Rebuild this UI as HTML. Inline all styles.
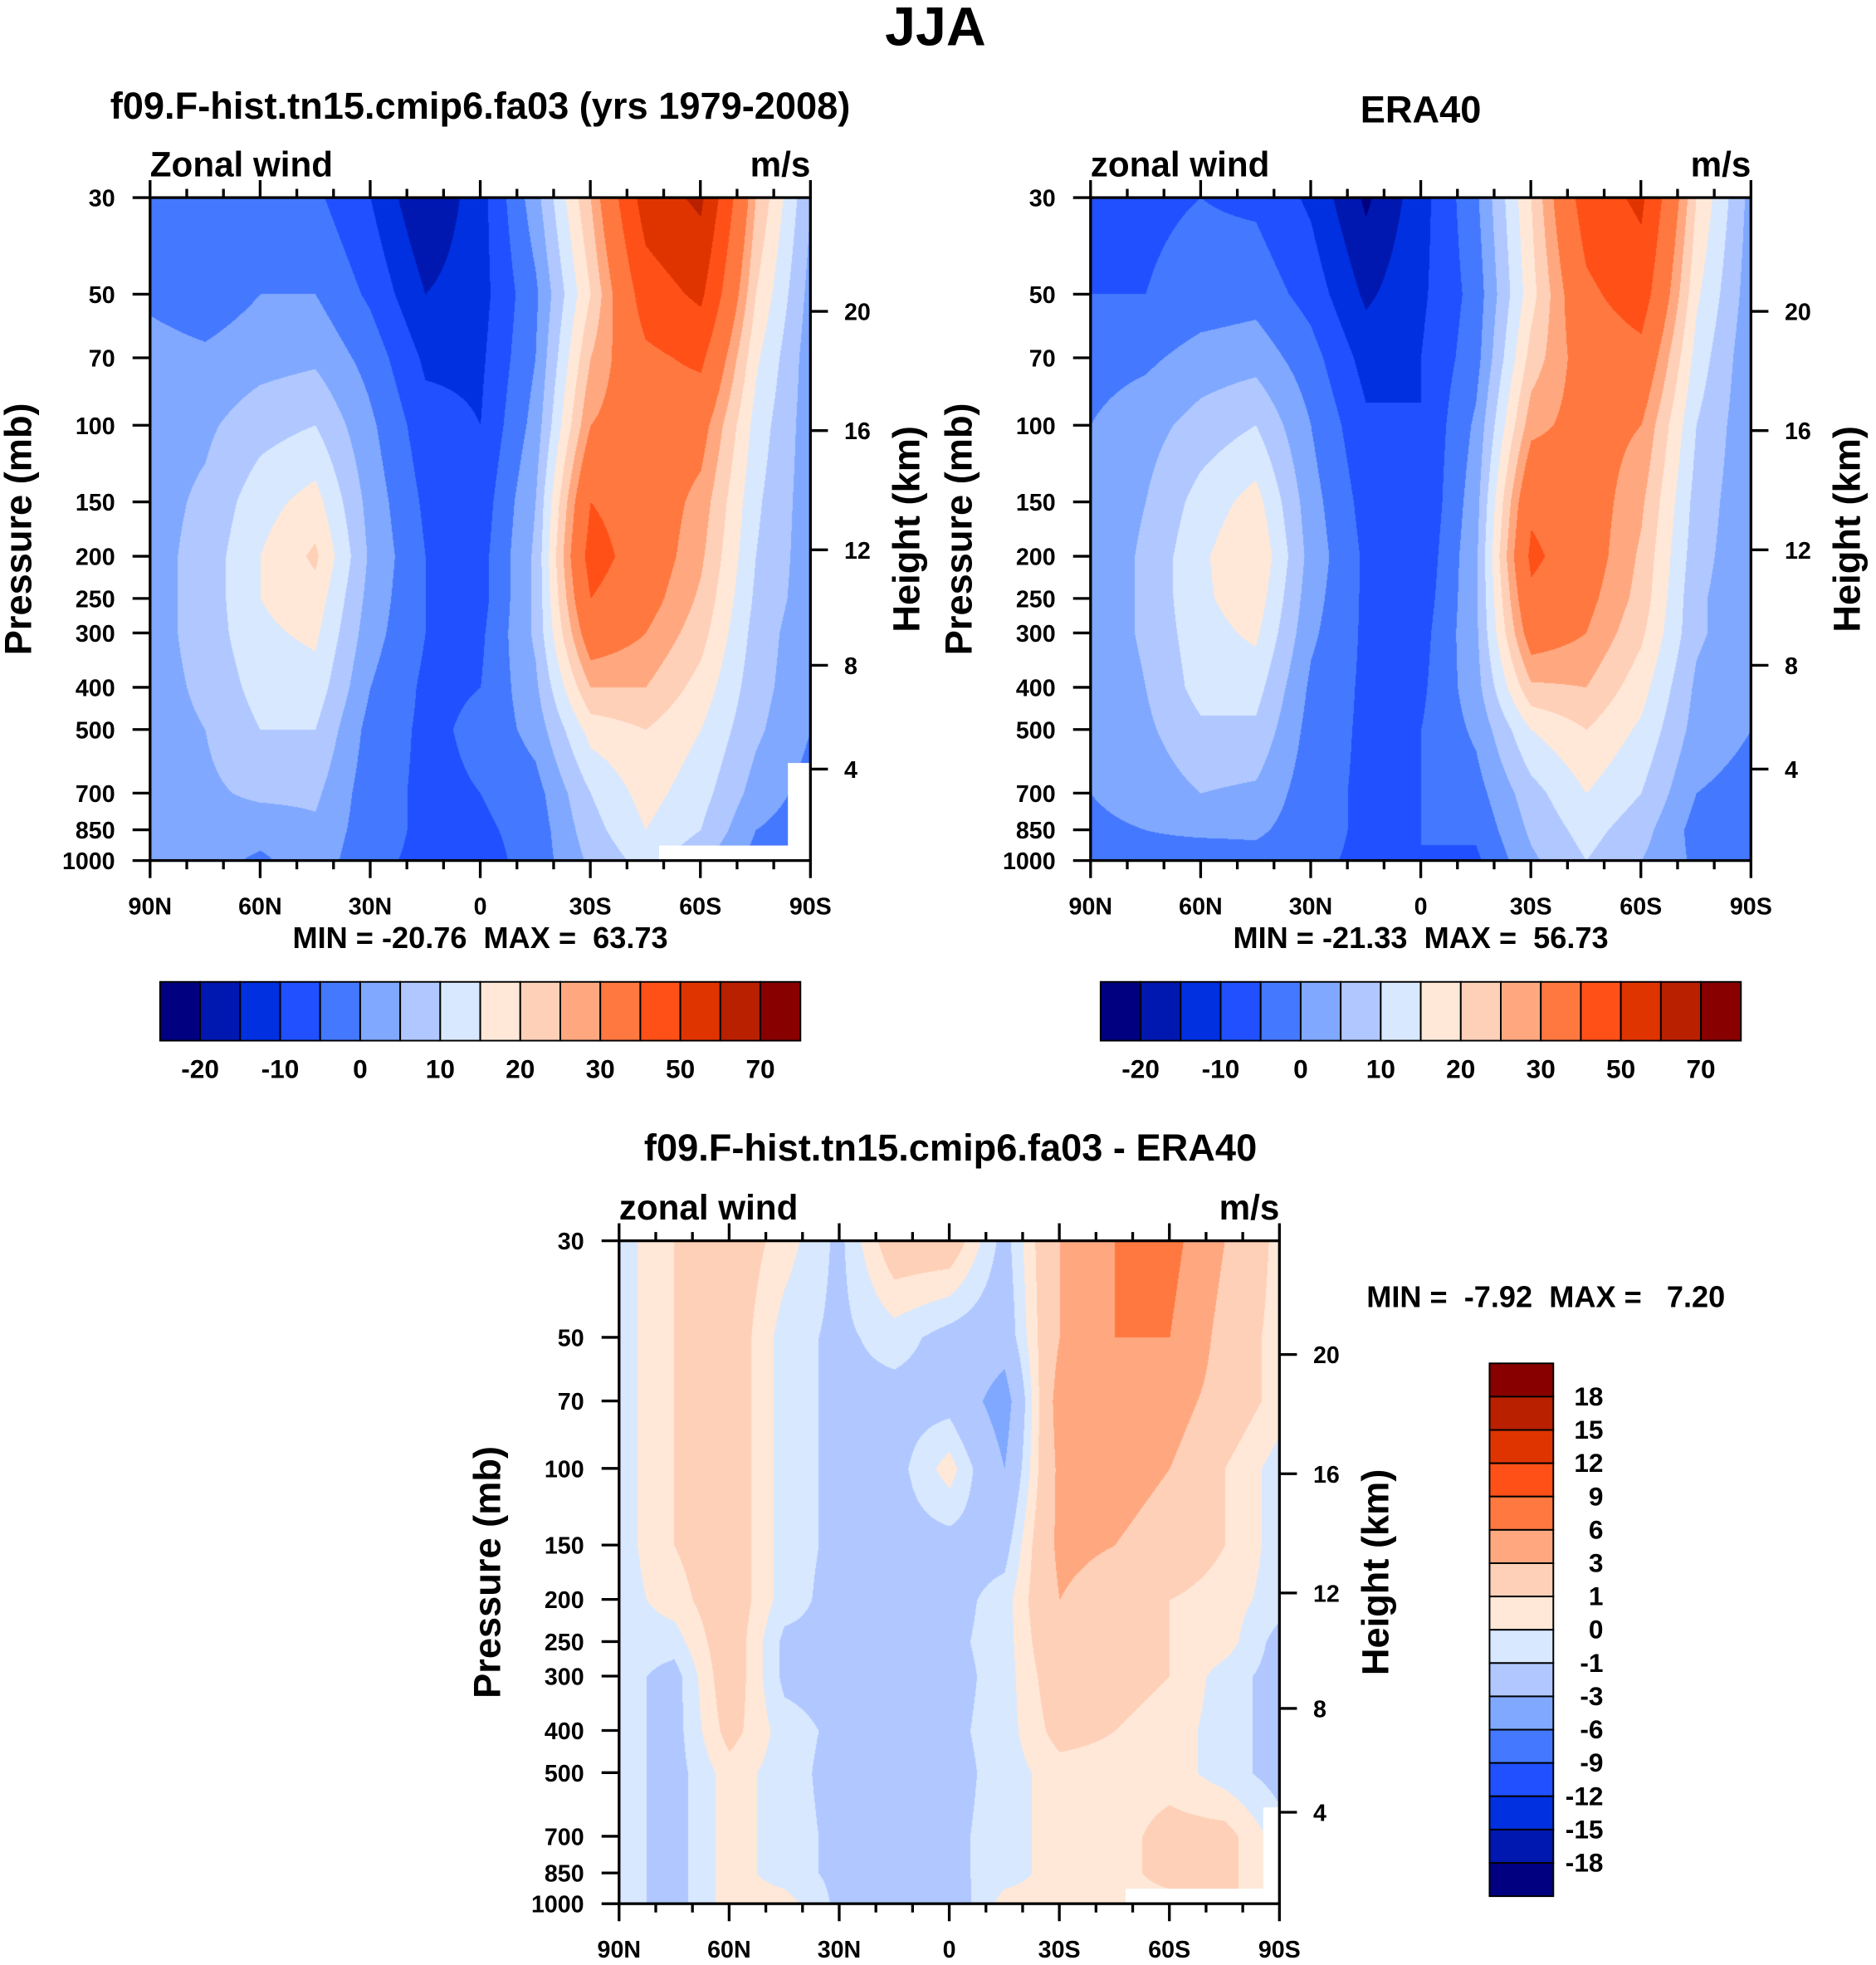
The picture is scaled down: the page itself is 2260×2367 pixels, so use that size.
<!DOCTYPE html>
<html><head><meta charset="utf-8">
<style>
html,body{margin:0;padding:0;background:#fff;}
#root{position:relative;width:2260px;height:2367px;overflow:hidden;}
canvas{position:absolute;}
svg{position:absolute;left:0;top:0;}
text{font-family:"Liberation Sans",sans-serif;font-weight:bold;fill:#000;white-space:pre;}
</style></head>
<body>
<div id="root">
<canvas id="c1"></canvas>
<canvas id="c2"></canvas>
<canvas id="c3"></canvas>
<svg id="ov" width="2260" height="2367" viewBox="0 0 1500 1571"></svg>
</div>
<script>
// ---- data ----
const lats = [90,75,60,45,30,15,0,-15,-30,-45,-60,-75,-90];
const plevs = [1000,850,700,500,400,300,250,200,150,100,70,50,30];
const pTicks = [1000,850,700,500,400,300,250,200,150,100,70,50,30];
const hTicks = [4,8,12,16,20];
const xTickLats = [90,60,30,0,-30,-60,-90];
const xTickLabels = ["90N","60N","30N","0","30S","60S","90S"];
const absLevels = [-20,-15,-10,-5,0,5,10,15,20,25,30,40,50,60,70];
const absLabels = ["-20","-10","0","10","20","30","50","70"];
const diffLevels = [-18,-15,-12,-9,-6,-3,-1,0,1,3,6,9,12,15,18];
const colors = ["#000080","#0018b0","#0030e0","#2050ff","#4478ff","#80a8ff","#b0c8ff","#d8e8ff","#ffe8d8","#ffd0b8","#ffa880","#ff7840","#ff5018","#e03400","#b82000","#880000"];
const modelU = [
[2,2,-1,3,-4,-6,-7,-3,6,12,6,-2,-2],
[3,3,2,4,-3,-6,-6,-3,8,15,10,0,-3],
[3,4,6,6,-3,-6,-5,-2,10,17,12,3,-2],
[3,5,10,10,-2,-6,-4,2,17,20,15,6,0],
[3,6,12,13,0,-6,-5,4,25,25,18,7,1],
[3,7,14,16,2,-5,-6,6,35,30,22,8,1],
[3,7,15,18,3,-5,-7,6,40,33,24,9,2],
[3,7,15,21,4,-5,-7,6,44,35,26,10,2],
[3,6,13,17,3,-6,-8,5,40,35,28,11,2],
[3,4,8,10,1,-8,-10,2,30,35,33,13,2],
[2,1,3,4,-2,-11,-11,0,25,38,42,16,2],
[-1,-3,0,0,-6,-15,-12,-1,20,45,52,20,3],
[-4,-5,-4,-4,-10,-20,-12,3,25,55,62,25,5]];
const eraU = [
[-1,-2,-3,-2,-4,-6,-5,-6,4,10,5,-1,-3],
[-1,0,1,1,-3,-6,-5,-4,6,12,7,-2,-4],
[0,2,5,4,-3,-6,-5,-2,8,15,10,0,-2],
[0,4,9,9,-2,-6,-5,1,15,20,14,3,0],
[0,5,12,12,-1,-6,-6,3,24,25,17,4,0],
[1,6,13,16,1,-6,-7,4,34,30,21,6,1],
[1,6,14,18,2,-6,-8,4,38,32,23,6,1],
[1,6,14,20,3,-6,-9,4,42,34,24,7,1],
[1,5,12,17,2,-7,-10,3,38,34,26,8,1],
[0,3,7,10,0,-9,-10,1,28,33,30,10,1],
[-2,-1,2,3,-3,-12,-10,-2,22,34,37,13,1],
[-5,-5,-3,-2,-7,-16,-11,-3,18,38,45,16,2],
[-6,-6,-5,-6,-11,-21,-12,-1,20,45,52,20,3]];
const diffU = [
[-0.5,-1.5,0.5,0.5,-1.3,-1.5,-2,0.5,0.5,0.5,0.5,1.5,-0.5],
[-0.5,-1.5,0.5,-0.5,-1.3,-1.5,-1.3,-0.5,0.5,0.5,1.5,1.5,-0.5],
[-0.5,-1.5,0.5,-0.5,-1.3,-1.5,-1.3,-0.5,0.5,0.5,1.5,1.5,-0.5],
[-0.5,-1.5,0.5,-0.5,-1.5,-1.3,-1.5,-0.5,0.5,0.5,0.5,-0.5,-1.5],
[-0.5,-1.5,1.5,-0.5,-1.3,-1.5,-1.3,-0.5,1.5,1,0.5,-0.5,-1.5],
[-0.5,-1.5,2,-1.3,-1.5,-1.3,-1.5,-0.5,2,1.5,1,-0.5,-1.5],
[-0.5,-0.5,2,-1.3,-1.3,-1.5,-1.3,-0.5,2.5,2,1,0.5,-1.5],
[-0.5,0.5,2,-0.5,-1.5,-1.3,-1.5,-0.5,3,2,1,0.5,-0.5],
[-0.5,1,2,-0.5,-1.3,-1.5,-1.5,-1.5,3.5,3,2,1,-0.5],
[-0.5,1,2,-0.5,-1.3,-1.5,0.5,-3,3.5,4,3,1,-0.5],
[-0.5,1,2,-0.5,-1.3,-1.5,-1.5,-4,4,5,4,2,0.5],
[-0.5,1,2,-0.5,-1.3,-0.5,-1.5,-2,3,6,6,2,0.5],
[-0.5,1,2,0.5,-1.3,2,2,-1.5,3,6,7,3,0.5]];

// ---- layout (display units, scaled) ----
const S = 2260/1500;
const panels = [
 {id:"c1", x:120, y:158, w:528, h:530, data:modelU, levels:absLevels, name:"model"},
 {id:"c2", x:872, y:158, w:528, h:530, data:eraU, levels:absLevels, name:"era40"},
 {id:"c3", x:495, y:992, w:528, h:530, data:diffU, levels:diffLevels, name:"diff"}];

function xScale(p, lat){ return p.x + (90-lat)/180*p.w; }
function yScale(p, pr){ return p.y + p.h - (Math.log10(1000)-Math.log10(pr))/(Math.log10(1000)-Math.log10(30))*p.h; }
function stdPress(km){ const h=km*1000; return h<=11000 ? 1013.25*Math.pow(1-2.25577e-5*h,5.2559) : 226.32*Math.exp(-(h-11000)/6341.6); }
function hexToRgb(h){return [parseInt(h.slice(1,3),16),parseInt(h.slice(3,5),16),parseInt(h.slice(5,7),16)];}
const rgb = colors.map(hexToRgb);

function sample(data, lat, lp){
  let fi = (90-lat)/15; fi=Math.max(0,Math.min(lats.length-1.0001,fi));
  const i0=Math.floor(fi), ti=fi-i0;
  const lps = plevs.map(v=>Math.log10(v));
  let j0=0; while(j0<lps.length-2 && lp<lps[j0+1]) j0++;
  let tj=(lps[j0]-lp)/(lps[j0]-lps[j0+1]); tj=Math.max(0,Math.min(1,tj));
  const a=data[j0][i0]*(1-ti)+data[j0][i0+1]*ti;
  const b=data[j0+1][i0]*(1-ti)+data[j0+1][i0+1]*ti;
  return a*(1-tj)+b*tj;
}
function levelIndex(levels,v){ let k=0; while(k<levels.length && v>=levels[k]) k++; return k; }

panels.forEach(p=>{
  const c=document.getElementById(p.id);
  const W=Math.round(p.w*S), H=Math.round(p.h*S);
  c.width=W; c.height=H;
  c.style.left=(p.x*S)+"px"; c.style.top=(p.y*S)+"px";
  const ctx=c.getContext("2d");
  const img=ctx.createImageData(W,H);
  const l0=Math.log10(1000), l1=Math.log10(30);
  for(let y=0;y<H;y++){
    const lp = l0-(H-y-0.5)/H*(l0-l1);
    for(let x=0;x<W;x++){
      const lat = 90-(x+0.5)/W*180;
      const v=sample(p.data,lat,lp);
      const col=rgb[levelIndex(p.levels,v)];
      const o=(y*W+x)*4;
      img.data[o]=col[0];img.data[o+1]=col[1];img.data[o+2]=col[2];img.data[o+3]=255;
    }
  }
  ctx.putImageData(img,0,0);
});

// ---- overlay ----
const NS="http://www.w3.org/2000/svg";
const ov=document.getElementById("ov");
function el(tag,attrs,parent){const e=document.createElementNS(NS,tag);for(const k in attrs)e.setAttribute(k,attrs[k]);(parent||ov).appendChild(e);return e;}
function txt(s,x,y,size,anchor,extra){const t=el("text",Object.assign({x:x,y:y,"font-size":size,"text-anchor":anchor||"middle"},extra||{}));t.textContent=s;return t;}

let t=txt("JJA",748,36,44);



const titles=[["f09.F-hist.tn15.cmip6.fa03 (yrs 1979-2008)",384,95,"Zonal wind"],["ERA40",1136,98,"zonal wind"],["f09.F-hist.tn15.cmip6.fa03 - ERA40",760,928,"zonal wind"]];
const minmax=[["MIN = -20.76  MAX =  63.73",384,758],["MIN = -21.33  MAX =  56.73",1136,758],["MIN =  -7.92  MAX =   7.20",1236,1045]];

panels.forEach((p,pi)=>{
  const g=el("g",{});
  
  
  if(pi===0){ el("rect",{x:527,y:676,width:104,height:12,fill:"#fff"},g); el("rect",{x:630,y:610,width:18,height:78,fill:"#fff"},g); }
  if(pi===2){ el("rect",{x:900,y:1510,width:110,height:12,fill:"#fff"},g); el("rect",{x:1010,y:1445,width:13,height:77,fill:"#fff"},g); }
  const fr=el("rect",{x:p.x,y:p.y,width:p.w,height:p.h,fill:"none",stroke:"#000","stroke-width":2.2},g);
  
  
  let tt=txt(titles[pi][0],titles[pi][1],titles[pi][2],30,"middle");
  
  
  let lz=txt(titles[pi][3],p.x,p.y-17,28,"start");
  
  
  let lu=txt("m/s",p.x+p.w,p.y-17,28,"end");
  
  
  pTicks.forEach(pr=>{
    const y=yScale(p,pr);
    el("line",{x1:p.x-14,x2:p.x,y1:y,y2:y,stroke:"#000","stroke-width":2.2},g);
    const l=txt(String(pr),p.x-28,y+7,19,"end");
    
    
  });
  hTicks.forEach(h=>{
    const y=yScale(p,stdPress(h));
    el("line",{x1:p.x+p.w,x2:p.x+p.w+14,y1:y,y2:y,stroke:"#000","stroke-width":2.2},g);
    const l=txt(String(h),p.x+p.w+27,y+7,19,"start");
    
    
  });
  for(let lat=90;lat>=-90;lat-=10){
    const x=xScale(p,lat);const major=(lat%30===0);
    el("line",{x1:x,x2:x,y1:p.y+p.h,y2:p.y+p.h+(major?14:7),stroke:"#000","stroke-width":2.2},g);
    el("line",{x1:x,x2:x,y1:p.y,y2:p.y-(major?14:7),stroke:"#000","stroke-width":2.2},g);
  }
  xTickLats.forEach((lat,i)=>{
    const l=txt(xTickLabels[i],xScale(p,lat),p.y+p.h+43,19,"middle");
    
    
  });
  const cy=p.y+p.h/2;
  let ya=txt("Pressure (mb)",0,0,30,"middle",{transform:`translate(${p.x-95},${cy}) rotate(-90)`});
  
  
  let yb=txt("Height (km)",0,0,30,"middle",{transform:`translate(${p.x+p.w+87},${cy}) rotate(-90)`});
  
  
  let mm=txt(minmax[pi][0],minmax[pi][1],minmax[pi][2],24,"middle");
  
  
});

[128,880].forEach((x0,ci)=>{
  const g=el("g",{});
  
  
  const bw=32;
  colors.forEach((c,i)=>{ el("rect",{x:x0+i*bw,y:785,width:bw,height:47,fill:c,stroke:"#000","stroke-width":1.3},g); });
  absLabels.forEach((s,k)=>{
    const idx=absLevels.indexOf(Number(s));
    const l=txt(s,x0+(idx+1)*bw,862,21,"middle");
    
    
  });
});
(function(){
  const g=el("g",{});
  
  
  const top=1090,bh=(1516-1090)/16;
  for(let i=0;i<16;i++){ el("rect",{x:1191,y:top+i*bh,width:51,height:bh,fill:colors[15-i],stroke:"#000","stroke-width":1.3},g); }
  diffLevels.forEach((v,k)=>{
    const i=15-(k+1);
    const y=top+(i+1)*bh;
    const l=txt(String(v),1282,y+7,21,"end");
    
    
  });
})();
</script>
</body></html>
